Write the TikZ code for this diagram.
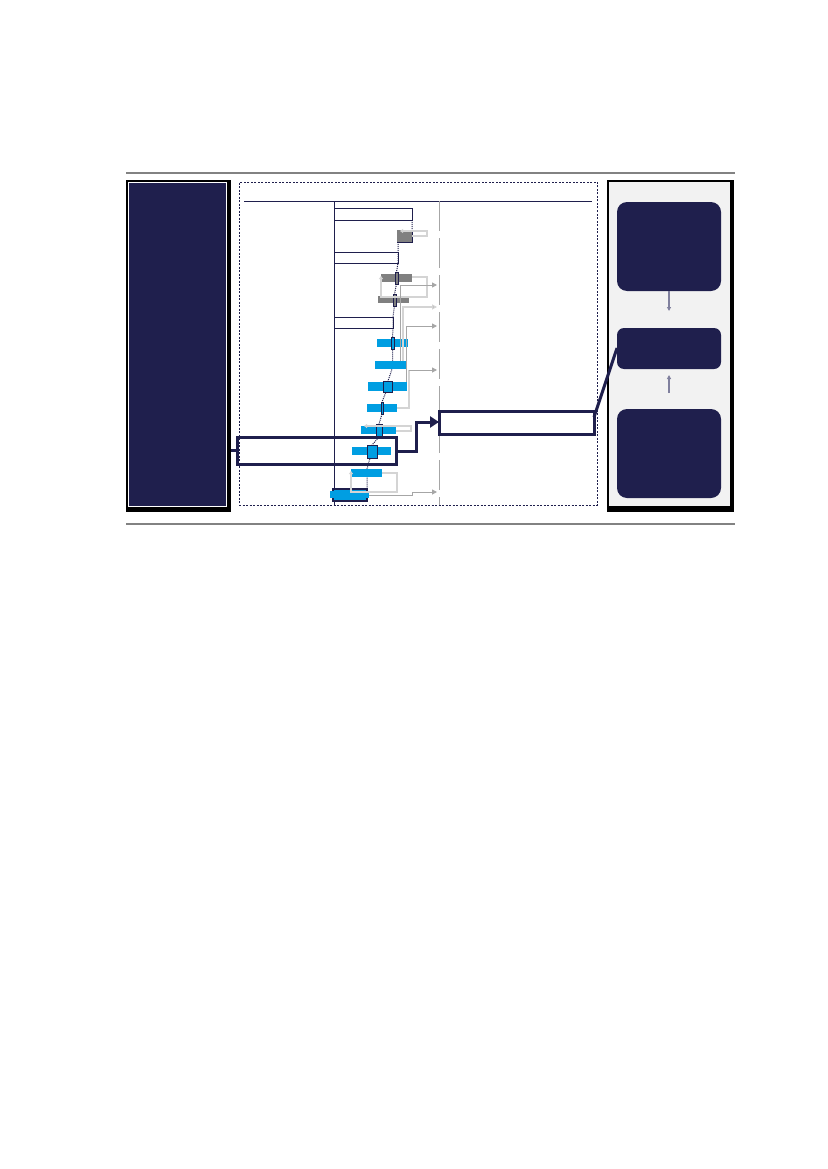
\documentclass[tikz,border=0pt]{standalone}
\usetikzlibrary{arrows.meta,calc}
\definecolor{navy}{RGB}{31,31,77}
\definecolor{cblue}{RGB}{0,158,226}
\definecolor{dgray}{RGB}{128,128,128}
\definecolor{lgray}{RGB}{212,212,212}
\definecolor{mgray}{RGB}{166,166,166}
\definecolor{panelgray}{RGB}{242,242,242}
\definecolor{rarrow}{RGB}{128,128,158}
\definecolor{rulegray}{RGB}{130,130,130}
\tikzset{
  box/.style={inner sep=0pt, outer sep=0pt, anchor=north west},
  bluebar/.style={box, fill=cblue},
  graybar/.style={box, fill=dgray},
  marker/.style={box, draw=navy, fill=cblue, line width=0.8pt},
  summ/.style={navy, line width=1pt},
  crit/.style={navy, line width=1pt, dash pattern=on 1pt off 1pt},
  loopline/.style={lgray, line width=1.3pt},
  linkline/.style={mgray, line width=1pt},
  gtip/.style={-{Triangle[length=5pt,width=5pt]}},
  thick navy/.style={navy, line width=3pt},
  rbox/.style={box, fill=navy, rounded corners=10pt},
  rarr/.style={rarrow, line width=1.2pt, -{Triangle[length=4pt,width=4pt]}},
}
\begin{document}
\begin{tikzpicture}[x=1pt,y=-1pt]
\useasboundingbox[fill=white] (0,0) rectangle (827,1169);
% rules
\draw[rulegray, line width=1.2pt] (126,173) -- (735,173);
\draw[rulegray, line width=1.2pt] (126,524) -- (735,524);
% left panel
\fill[black] (126,180) rectangle (231,512);
\node[box, fill=navy, draw=white, line width=0.8pt, minimum width=98, minimum height=324] (lpanel) at (128,182) {};
% right panel
\fill[black] (607,180) rectangle (734,512);
\node[box, fill=panelgray, minimum width=121, minimum height=324] (rpanel) at (609,182) {};
\node[rbox, minimum width=104, minimum height=89] (rb1) at (617,202) {};
\node[rbox, rounded corners=7pt, minimum width=104, minimum height=41] (rb2) at (617,328) {};
\node[rbox, minimum width=104, minimum height=89] (rb3) at (617,409) {};
\draw[rarr, shorten >=17pt] (rb1.south) -- (rb2.north);
\draw[rarr, shorten <=16pt, shorten >=6pt] (rb3.north) -- (rb2.south);
% dashed frame
\node[box, draw=navy, line width=0.8pt, dash pattern=on 2pt off 1.5pt, minimum width=358, minimum height=323] (frame) at (239,182) {};
\draw[summ] (244,201) -- (592,201);
\draw[summ] (334,201) -- (334,505);
\draw[mgray, line width=1pt, dash pattern=on 30pt off 7pt] (439,201) -- (439,505);
% summary brackets
\draw[summ] (334,208) -- (412,208) -- (412,220) -- (334,220);
\draw[summ] (334,252) -- (398,252) -- (398,263) -- (334,263);
\draw[summ] (334,317) -- (393,317) -- (393,328) -- (334,328);
% critical path (dotted)
\draw[crit] (412,220) -- (412,236) -- (398,236) -- (398,252) -- (398,263) -- (396.5,272) -- (396.5,284)
  -- (394.5,294) -- (394.5,306) -- (393,317) -- (393,328) -- (392.5,337) -- (392.5,361)
  -- (392,369) -- (388,381) -- (386,392) -- (382,402) -- (382,414) -- (379,424) -- (379,437)
  -- (372,445) -- (370,458) -- (367,469) -- (367,489);
% bars
\node[graybar, minimum width=15, minimum height=12] (G1) at (397,230) {};
\draw[navy, line width=0.8pt] (G1.north east) -- (G1.south east) -- (G1.south west);
\node[graybar, minimum width=31, minimum height=8] (G2) at (381,274) {};
\node[graybar, minimum width=31, minimum height=7] (G3) at (378,296) {};
\node[bluebar, minimum width=31, minimum height=8] (B1) at (377,339) {};
\node[bluebar, minimum width=31, minimum height=8] (B2) at (375,361) {};
\node[bluebar, minimum width=39, minimum height=9] (B3) at (368,382) {};
\node[bluebar, minimum width=30, minimum height=8] (B4) at (367,404) {};
\node[bluebar, minimum width=35, minimum height=8] (B5) at (361,426) {};
\node[bluebar, minimum width=39, minimum height=8] (B6) at (352,447) {};
\node[bluebar, minimum width=31, minimum height=8] (B7) at (351,469) {};
% markers
\node[marker, fill=dgray, minimum width=3, minimum height=12] (MG2) at (395,272) {};
\node[marker, fill=dgray, minimum width=3, minimum height=12] (MG3) at (393,294) {};
\node[marker, minimum width=3, minimum height=12] (MB1) at (391,337) {};
\node[marker, minimum width=9, minimum height=11] (MB3) at (383,381) {};
\node[marker, minimum width=2, minimum height=12] (MB4) at (381,402) {};
\node[marker, minimum width=6, minimum height=13] (MB5) at (376,424) {};
\node[marker, minimum width=10, minimum height=13] (MB6) at (367,445) {};
\node[marker, line width=1.1pt, minimum width=34, minimum height=12] (MB8) at (333,489) {};
\node[bluebar, minimum width=39, minimum height=7] (B8) at (330,491) {};
% loops (light gray)
\draw[loopline, -{Triangle[length=3pt,width=4pt]}] (G1.east |- 0,236) -- (427,236) -- (427,231) -- (400,231);
\draw[loopline, -{Triangle[length=3pt,width=4pt]}] (G2.east |- 0,277) -- (427,277) -- (427,297) -- (381,297) -- (381,276);
\draw[loopline, -{Triangle[length=3pt,width=4pt]}] (B5.east |- 0,431) -- (411,431) -- (411,426) -- (364,426);
\draw[loopline, -{Triangle[length=3pt,width=4pt]}] (B7.east |- 0,473) -- (397,473) -- (397,492) -- (351,492) -- (351,471);
% links to the dashed date line
\draw[linkline, gtip] (400,361) -- (400,285) -- (437,285);
\draw[loopline, line width=1.1pt, -{Triangle[length=5pt,width=5pt,fill=mgray]}] (403,361) -- (403,307) -- (437,307);
\draw[linkline, gtip] (406,382) -- (406,326) -- (437,326);
\draw[loopline, line width=1.1pt] (B4.east |- 0,408) -- (409,408) -- (409,370);
\draw[linkline, gtip] (409,370) -- (437,370);
\draw[linkline, gtip] (B8.east |- 0,495) -- (412,495) -- (412,492) -- (437,492);
% highlight boxes
\node[box, draw=navy, line width=3pt, minimum width=159, minimum height=27] (hl) at (237,437) {};
\node[box, draw=navy, fill=white, line width=3pt, minimum width=155, minimum height=23] (hr) at (439,411) {};
\coordinate (lpe) at (231,450);
\draw[thick navy] (lpe) -- (hl.west |- lpe);
\draw[thick navy, -{Triangle[length=9pt,width=11pt]}] (hl.east |- 0,451) -- (416,451) -- (416,422) -- (hr.west |- 0,422);
\draw[thick navy] (hr.east |- 0,417) -- (rb2.west |- 0,348);
\end{tikzpicture}
\end{document}
